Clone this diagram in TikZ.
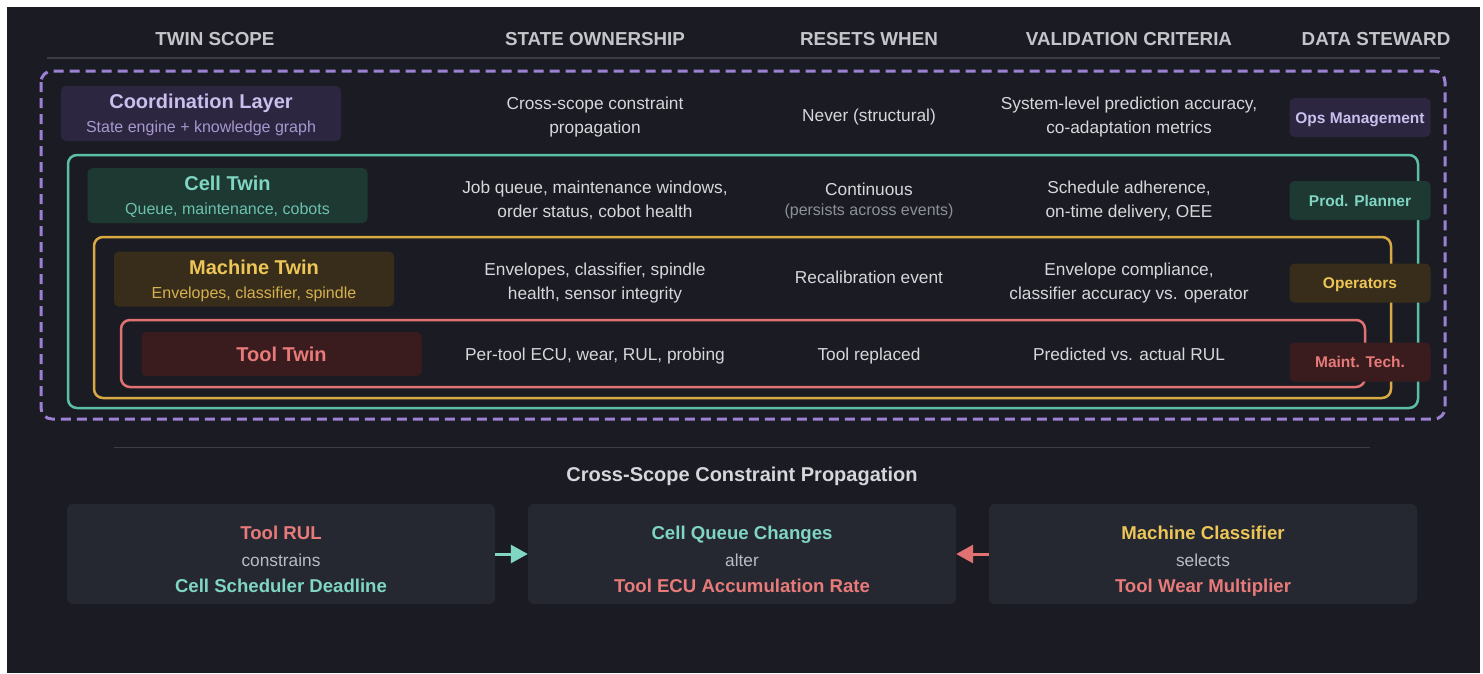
\documentclass[tikz,border=0pt]{standalone}
\usepackage{fontspec}
\setmainfont{Liberation Sans}
\usetikzlibrary{arrows.meta}

\definecolor{BgClr}{HTML}{1B1C23}
\definecolor{RuleClr}{HTML}{3A3D46}
\definecolor{HdrClr}{HTML}{C3C5CA}
\definecolor{TxtClr}{HTML}{D5D7DB}
\definecolor{DimClr}{HTML}{8C9099}
\definecolor{CardClr}{HTML}{252830}
\definecolor{MidClr}{HTML}{B9BCC3}
% one colour set per twin level
\definecolor{CoordClr}{HTML}{9B80D4}
\definecolor{CoordFill}{HTML}{2C2640}
\definecolor{CoordTxt}{HTML}{CBBFEE}
\definecolor{CoordSub}{HTML}{A798CE}
\definecolor{CellClr}{HTML}{5BBFA7}
\definecolor{CellFill}{HTML}{1E3832}
\definecolor{CellTxt}{HTML}{7FD6C2}
\definecolor{CellSub}{HTML}{6CC2AE}
\definecolor{MachClr}{HTML}{D9A944}
\definecolor{MachFill}{HTML}{372D1A}
\definecolor{MachTxt}{HTML}{EDC657}
\definecolor{MachSub}{HTML}{D7B04F}
\definecolor{ToolClr}{HTML}{E07272}
\definecolor{ToolFill}{HTML}{3A1C1E}
\definecolor{ToolTxt}{HTML}{E87A7A}

\newcommand\twinhead{\fontsize{20}{24}\selectfont\bfseries}
\newcommand\cardhead{\fontsize{18.6}{26.5}\selectfont\bfseries}

\tikzset{
  hdr/.style={font=\fontsize{18.8}{22}\selectfont\bfseries, text=HdrClr},
  cellfield/.style={align=center, text depth=0pt, font=\fontsize{17.3}{24}\selectfont, text=TxtClr},
  twinbox/.style={rounded corners=5pt, minimum width=280pt, minimum height=55pt,
    align=center, inner sep=0pt, text depth=0pt, font=\fontsize{16}{24}\selectfont},
  badge/.style={rounded corners=5pt, minimum width=141pt, minimum height=39pt,
    inner sep=0pt, text height=11.1pt, text depth=0pt, font=\fontsize{15.5}{18}\selectfont\bfseries},
  scopeframe/.style={rounded corners=9pt, line width=2.5pt},
  card/.style={fill=CardClr, rounded corners=6pt, minimum width=428pt, minimum height=100pt, inner sep=0pt},
  cardtext/.style={align=center, inner sep=0pt, text depth=0pt, font=\fontsize{17.3}{26.5}\selectfont, text=MidClr},
  flow/.style={line width=3pt, -{Triangle[length=17pt,width=18pt]}},
}

\begin{document}
\begin{tikzpicture}[x=1pt,y=-1pt]
\fill[white] (0,0) rectangle (1483,673);
\fill[BgClr] (7,7) rectangle (1480,673);
\useasboundingbox (0,0) rectangle (1483,673);

% column heads
\node[hdr] (hscope) at (215,39) {TWIN SCOPE};
\node[hdr] (hstate) at (595,39) {STATE OWNERSHIP};
\node[hdr] (hreset) at (869,39) {RESETS WHEN};
\node[hdr] (hvalid) at (1129,39) {VALIDATION CRITERIA};
\node[hdr] (hsteward) at (1376,39) {DATA STEWARD};
\draw[RuleClr, line width=1.2pt] (47,58) -- (1440,58);

% nested scopes
\draw[CoordClr, line width=3pt, rounded corners=11pt, dash pattern=on 10pt off 6pt] (41,71) rectangle (1445,419);
\draw[scopeframe, CellClr] (68,155) rectangle (1418,408);
\draw[scopeframe, MachClr] (94,237) rectangle (1391,398);
\draw[scopeframe, ToolClr] (121,320) rectangle (1365,387);

% coordination layer
\node[twinbox, fill=CoordFill, text=CoordSub] (coord) at (201,113.5)
  {{\twinhead\color{CoordTxt}Coordination Layer}\\State engine + knowledge graph};
\node[cellfield] (coordown) at (595,115) {Cross-scope constraint\\propagation};
\node[cellfield] (coordreset) at (869,115) {Never (structural)};
\node[cellfield] (coordvalid) at (1129,115) {System-level prediction accuracy,\\co-adaptation metrics};
\node[badge, fill=CoordFill, text=CoordTxt] (coordsteward) at (1360,117.5) {Ops Management};

% cell twin
\node[twinbox, fill=CellFill, text=CellSub] (cell) at (227.5,195.5)
  {{\twinhead\color{CellTxt}Cell Twin}\\Queue, maintenance, cobots};
\node[cellfield] (cellown) at (595,199) {Job queue, maintenance windows,\\order status, cobot health};
\node[cellfield] (cellreset) at (869,189) {Continuous};
\node[font=\fontsize{16}{18}\selectfont, text=DimClr] (cellpersist) at (869,211) {(persists across events)};
\node[cellfield] (cellvalid) at (1129,199) {Schedule adherence,\\on-time delivery, OEE};
\node[badge, fill=CellFill, text=CellTxt] (cellsteward) at (1360,200.5) {Prod. Planner};

% machine twin
\node[twinbox, fill=MachFill, text=MachSub] (mach) at (254,279)
  {{\twinhead\color{MachTxt}Machine Twin}\\Envelopes, classifier, spindle};
\node[cellfield] (machown) at (595,281) {Envelopes, classifier, spindle\\health, sensor integrity};
\node[cellfield] (machreset) at (869,277) {Recalibration event};
\node[cellfield] (machvalid) at (1129,281) {Envelope compliance,\\classifier accuracy vs. operator};
\node[badge, fill=MachFill, text=MachTxt] (machsteward) at (1360,283) {Operators};

% tool twin
\node[twinbox, minimum height=44pt, fill=ToolFill, text=ToolTxt, font=\twinhead] (tool) at (281.5,354) {Tool Twin};
\node[cellfield] (toolown) at (595,354) {Per-tool ECU, wear, RUL, probing};
\node[cellfield] (toolreset) at (869,354) {Tool replaced};
\node[cellfield] (toolvalid) at (1129,354) {Predicted vs. actual RUL};
\node[badge, fill=ToolFill, text=ToolTxt] (toolsteward) at (1360,362) {Maint. Tech.};

% propagation strip
\draw[RuleClr, line width=1.2pt] (114,447.5) -- (1370,447.5);
\node[font=\fontsize{20}{24}\selectfont\bfseries, text=TxtClr] (ptitle) at (742,476) {Cross-Scope Constraint Propagation};

\node[card] (rul) at (281,554) {};
\node[card] (queue) at (742,554) {};
\node[card] (classif) at (1203,554) {};
\node[cardtext] (rultxt) at (rul) [yshift=-5.5pt]
  {{\cardhead\color{ToolTxt}Tool RUL}\\constrains\\{\cardhead\color{CellTxt}Cell Scheduler Deadline}};
\node[cardtext] (queuetxt) at (queue) [yshift=-5.5pt]
  {{\cardhead\color{CellTxt}Cell Queue Changes}\\alter\\{\cardhead\color{ToolTxt}Tool ECU Accumulation Rate}};
\node[cardtext] (classiftxt) at (classif) [yshift=-5.5pt]
  {{\cardhead\color{MachTxt}Machine Classifier}\\selects\\{\cardhead\color{ToolTxt}Tool Wear Multiplier}};

\draw[flow, CellTxt] (rul) -- (queue);
\draw[flow, ToolClr] (classif) -- (queue);
\end{tikzpicture}
\end{document}
